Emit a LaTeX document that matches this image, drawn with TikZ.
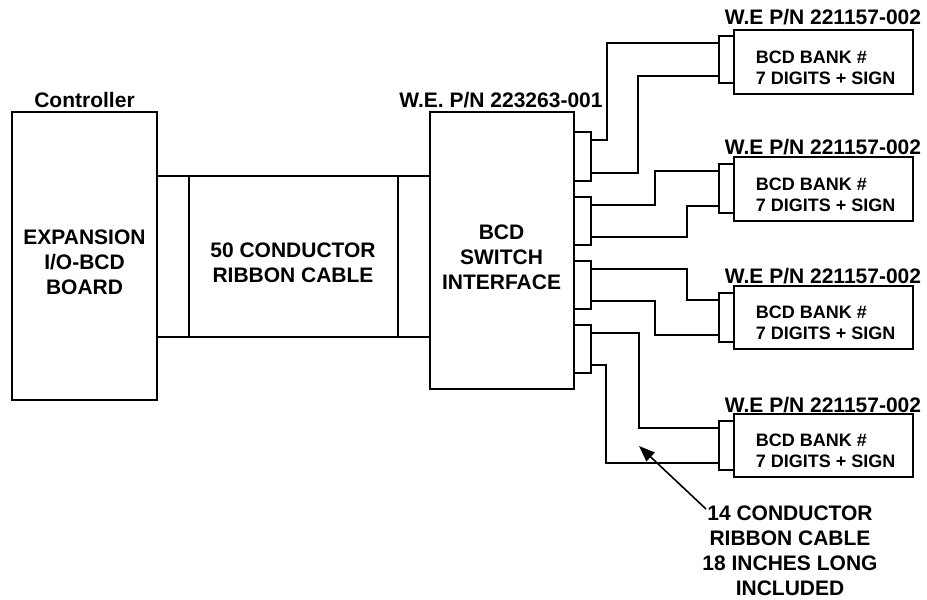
\documentclass[tikz,border=0pt]{standalone}
\usepackage{fontspec}
\setmainfont{Liberation Sans}
\usetikzlibrary{arrows.meta}
\begin{document}
\begin{tikzpicture}[x=1pt,y=-1pt, line width=1.8pt,
  box/.style={draw, rectangle, inner sep=0pt, outer sep=0pt, anchor=north west},
  big/.style={font=\bfseries\fontsize{21}{25}\selectfont, align=center, inner sep=0pt},
  small/.style={font=\bfseries\fontsize{18}{21}\selectfont, align=left, inner sep=0pt, anchor=west},
  wire/.style={line width=1.6pt},
]
\useasboundingbox (0,0) rectangle (927,600);
% main boxes
\node[box, minimum width=145pt, minimum height=288pt] (ctrl) at (12,112) {};
\node[box, minimum width=209pt, minimum height=161pt] (cable) at (189,176) {};
\node[box, minimum width=32pt, minimum height=161pt] (lconn) at (157,176) {};
\node[box, minimum width=32pt, minimum height=161pt] (rconn) at (398,176) {};
\node[box, minimum width=144pt, minimum height=277pt] (iface) at (430,112) {};
% interface connectors
\node[box, minimum width=17pt, minimum height=49pt] (c1) at (574,132) {};
\node[box, minimum width=17pt, minimum height=48pt] (c2) at (574,197) {};
\node[box, minimum width=17pt, minimum height=48pt] (c3) at (574,261) {};
\node[box, minimum width=17pt, minimum height=48pt] (c4) at (574,325) {};
% banks
\node[box, minimum width=179pt, minimum height=64pt] (bank1) at (734,30) {};
\node[box, minimum width=179pt, minimum height=64pt] (bank2) at (734,157) {};
\node[box, minimum width=179pt, minimum height=63pt] (bank3) at (734,286) {};
\node[box, minimum width=179pt, minimum height=63pt] (bank4) at (734,414) {};
\node[box, minimum width=15pt, minimum height=47pt] (b1c) at (719,36) {};
\node[box, minimum width=15pt, minimum height=49pt] (b2c) at (719,164) {};
\node[box, minimum width=15pt, minimum height=49pt] (b3c) at (719,293) {};
\node[box, minimum width=15pt, minimum height=49pt] (b4c) at (719,421) {};
% texts
\node[big] (ctrllbl) at (84.5,100) {Controller};
\node[big] (ifacelbl) at (501,100) {W.E. P/N 223263-001};
\node[big] (ctrltxt) at (84.5,262) {EXPANSION\\I/O-BCD\\BOARD};
\node[big] (cabletxt) at (293,262.5) {50 CONDUCTOR\\RIBBON CABLE};
\node[big] (ifacetxt) at (501.5,257) {BCD\\SWITCH\\INTERFACE};
\node[big] (l1) at (823,17) {W.E P/N 221157-002};
\node[big] (l2) at (823,147) {W.E P/N 221157-002};
\node[big] (l3) at (823,276) {W.E P/N 221157-002};
\node[big] (l4) at (823,405) {W.E P/N 221157-002};
\node[small] (t1) at (755,67.5) {BCD BANK \#\\7 DIGITS + SIGN};
\node[small] (t2) at (755,194.5) {BCD BANK \#\\7 DIGITS + SIGN};
\node[small] (t3) at (755,323) {BCD BANK \#\\7 DIGITS + SIGN};
\node[small] (t4) at (755,451) {BCD BANK \#\\7 DIGITS + SIGN};
\node[big] (note) at (790,550.5) {14 CONDUCTOR\\RIBBON CABLE\\18 INCHES LONG\\INCLUDED};
% wires
\draw[wire] ([yshift=-8pt]c1.north east) -- ++(16,0) |- ([yshift=-7pt]b1c.north west);
\draw[wire] ([yshift=8pt]c1.south east) -- ++(47,0) |- ([yshift=7pt]b1c.south west);
\draw[wire] ([yshift=-8pt]c2.north east) -- ++(64,0) |- ([yshift=-7pt]b2c.north west);
\draw[wire] ([yshift=8pt]c2.south east) -- ++(96,0) |- ([yshift=7pt]b2c.south west);
\draw[wire] ([yshift=-8pt]c3.north east) -- ++(96,0) |- ([yshift=-7pt]b3c.north west);
\draw[wire] ([yshift=8pt]c3.south east) -- ++(64,0) |- ([yshift=7pt]b3c.south west);
\draw[wire] ([yshift=-8pt]c4.north east) -- ++(48,0) |- ([yshift=-7pt]b4c.north west);
\draw[wire] ([yshift=8pt]c4.south east) -- ++(15,0) |- ([yshift=7pt]b4c.south west);
% arrow
\coordinate (tip) at (639,446);
\coordinate (tail) at (706,509);
\draw[wire,-{Triangle[length=16pt,width=12pt]}] (tail) -- (tip);
\end{tikzpicture}
\end{document}
